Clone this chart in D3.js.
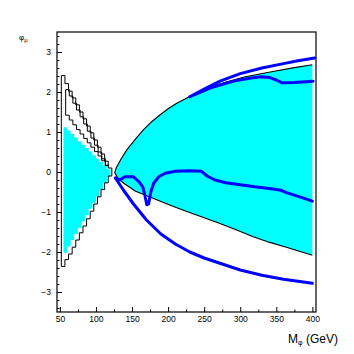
<!DOCTYPE html>
<head>
  <meta charset="utf-8">
  <script src="https://d3js.org/d3.v7.min.js"></script>
  <style>
    body { margin:0; background:#fff; }
    svg { display:block; }
    .tick text { font-family: "Liberation Sans", Arial, sans-serif; font-size: 8.5px; fill:#000; }
    .tick line { stroke:#000; stroke-width:1; }
  </style>
</head>
<body>
<script>
  // left region: stepped contours (bin edges + bin values)
  var outerEdges  = [52, 57, 62, 67, 72, 77, 82, 87, 92, 97, 102, 107, 112, 117, 122];
  var outerTop    = [2.41, 2.21, 2.02, 1.85, 1.68, 1.50, 1.33, 1.15, 0.98, 0.80, 0.62, 0.45, 0.27, 0.10];
  var outerBottom = [-2.36, -2.19, -2.05, -1.88, -1.70, -1.52, -1.35, -1.17, -0.98, -0.80, -0.62, -0.44, -0.27, -0.10];

  var midEdges  = [58, 63, 68, 73, 78, 83, 88, 93, 98, 103, 108, 113, 118];
  var midTop    = [2.06, 1.90, 1.72, 1.55, 1.38, 1.20, 1.02, 0.85, 0.67, 0.50, 0.33, 0.17];
  var midBottom = [1.42, 1.30, 1.18, 1.06, 0.95, 0.84, 0.73, 0.62, 0.51, 0.40, 0.28, 0.16];

  var cyanEdges  = [55, 60, 65, 70, 75, 80, 85, 90, 95, 100, 105, 110, 115, 120];
  var cyanTop    = [1.12, 1.03, 0.95, 0.86, 0.77, 0.68, 0.60, 0.51, 0.42, 0.33, 0.25, 0.16, 0.07];
  var cyanBottom = [-2.02, -1.86, -1.70, -1.55, -1.40, -1.24, -1.08, -0.92, -0.77, -0.61, -0.45, -0.29, -0.12];

  // right region: black boundary curves
  var upperBlackX = [126, 128, 135, 143, 155, 166, 178, 189, 200, 212, 235, 258, 281, 304, 327, 351, 375, 400];
  var upperBlackY = [-0.02, 0.10, 0.33, 0.56, 0.83, 1.06, 1.27, 1.43, 1.58, 1.72, 1.93, 2.12, 2.25, 2.37, 2.45, 2.53, 2.61, 2.68];
  var lowerBlackX = [126, 131, 140, 155, 180, 203, 226, 249, 272, 295, 318, 341, 364, 382, 400];
  var lowerBlackY = [-0.02, -0.17, -0.30, -0.48, -0.66, -0.83, -0.99, -1.14, -1.29, -1.45, -1.62, -1.76, -1.88, -1.98, -2.08];

  // blue curves
  var blueTopX = [230, 250, 272, 300, 330, 360, 380, 403];
  var blueTopY = [1.88, 2.07, 2.27, 2.46, 2.60, 2.71, 2.78, 2.85];
  var blueBranchX = [236, 258, 280, 295, 315, 328, 341, 350, 358, 375, 401];
  var blueBranchY = [1.93, 2.10, 2.22, 2.29, 2.35, 2.38, 2.36, 2.30, 2.23, 2.24, 2.27];
  var blueMidX = [127, 133, 140, 152, 160, 165, 168, 170.5, 173, 176, 180, 187, 196, 210, 230, 246, 254, 265, 280, 300, 320, 340, 355, 365, 375, 400];
  var blueMidY = [-0.15, -0.20, -0.12, -0.12, -0.25, -0.38, -0.60, -0.82, -0.80, -0.50, -0.28, -0.12, -0.03, 0.02, 0.03, 0.02, -0.10, -0.20, -0.27, -0.32, -0.37, -0.41, -0.45, -0.52, -0.58, -0.73];
  var blueLowX = [127, 138, 152, 170, 190, 210, 230, 250, 275, 300, 330, 360, 400];
  var blueLowY = [-0.15, -0.45, -0.80, -1.20, -1.55, -1.80, -2.00, -2.15, -2.30, -2.45, -2.58, -2.68, -2.78];

  var xTicks = [50, 100, 150, 200, 250, 300, 350, 400];
  var yTicks = [-3, -2, -1, 0, 1, 2, 3];

  var W = 354, H = 354;
  var L = 57, R = 316, T = 32, B = 312;

  var svg = d3.select("body").append("svg").attr("width", W).attr("height", H);

  var x = d3.scaleLinear().domain([46, 405]).range([L, R]);
  var y = d3.scaleLinear().domain([-3.5, 3.5]).range([B, T]);

  var line = d3.line().x(function(d){ return x(d[0]); }).y(function(d){ return y(d[1]); });

  // closed stepped contour from edges / top / bottom
  function stepShape(edges, top, bot) {
    var pts = [[edges[0], bot[0]], [edges[0], top[0]]];
    for (var i = 0; i < top.length; i++) {
      if (i > 0) pts.push([edges[i], top[i]]);
      pts.push([edges[i+1], top[i]]);
    }
    for (var j = bot.length - 1; j >= 0; j--) {
      pts.push([edges[j+1], bot[j]]);
      pts.push([edges[j], bot[j]]);
    }
    return pts;
  }
  function zip(xs, ys) { return xs.map(function(v, i){ return [v, ys[i]]; }); }

  // cyan fills
  svg.append("path")
    .attr("d", line(stepShape(cyanEdges, cyanTop, cyanBottom)) + "Z")
    .attr("fill", "#00ffff");
  var rightArea = zip(upperBlackX, upperBlackY).concat(zip(lowerBlackX, lowerBlackY).reverse());
  svg.append("path")
    .attr("d", line(rightArea) + "Z")
    .attr("fill", "#00ffff");

  // black contours
  [stepShape(outerEdges, outerTop, outerBottom), stepShape(midEdges, midTop, midBottom)].forEach(function(p){
    svg.append("path").attr("d", line(p) + "Z")
      .attr("fill", "none").attr("stroke", "#000").attr("stroke-width", 1);
  });
  [zip(upperBlackX, upperBlackY), zip(lowerBlackX, lowerBlackY)].forEach(function(p){
    svg.append("path").attr("d", line(p))
      .attr("fill", "none").attr("stroke", "#000").attr("stroke-width", 1.1);
  });

  // blue curves
  [zip(blueTopX, blueTopY), zip(blueBranchX, blueBranchY), zip(blueMidX, blueMidY), zip(blueLowX, blueLowY)].forEach(function(p){
    svg.append("path").attr("d", line(p))
      .attr("fill", "none").attr("stroke", "#0000ff").attr("stroke-width", 3)
      .attr("stroke-linejoin", "round").attr("stroke-linecap", "round");
  });

  // axes (ticks inside, ROOT style)
  svg.append("g").attr("transform", "translate(" + L + ",0)")
    .call(d3.axisLeft(y).tickValues(yTicks).tickSize(-5).tickSizeOuter(0).tickPadding(6).tickFormat(d3.format("d")))
    .call(function(g){ g.select(".domain").remove(); });
  svg.append("g").attr("transform", "translate(" + L + ",0)")
    .call(d3.axisLeft(y).tickValues(d3.range(-34, 35, 2).map(function(v){ return v / 10; })).tickSize(-2.5).tickSizeOuter(0).tickFormat(""))
    .call(function(g){ g.select(".domain").remove(); });

  svg.append("g").attr("transform", "translate(0," + B + ")")
    .call(d3.axisBottom(x).tickValues(xTicks).tickSize(-5).tickSizeOuter(0).tickPadding(4))
    .call(function(g){ g.select(".domain").remove(); });
  svg.append("g").attr("transform", "translate(0," + B + ")")
    .call(d3.axisBottom(x).tickValues([75, 125, 175, 225, 275, 325, 375]).tickSize(-2.5).tickSizeOuter(0).tickFormat(""))
    .call(function(g){ g.select(".domain").remove(); });

  // frame
  svg.append("rect").attr("x", L).attr("y", T).attr("width", R - L).attr("height", B - T)
    .attr("fill", "none").attr("stroke", "#000").attr("stroke-width", 1.2);

  // titles
  var xt = svg.append("text").attr("x", 338).attr("y", 343).attr("text-anchor", "end")
    .style("font-family", "Liberation Sans, Arial, sans-serif").style("font-size", "12px");
  xt.append("tspan").text("M");
  xt.append("tspan").attr("dy", 2).style("font-size", "7px").text("φ");
  xt.append("tspan").attr("dy", -2).text(" (GeV)");

  var yt = svg.append("text").attr("x", 19).attr("y", 40)
    .style("font-family", "Liberation Sans, Arial, sans-serif").style("font-size", "8px");
  yt.append("tspan").text("φ");
  yt.append("tspan").attr("dy", 1.5).style("font-size", "6px").text("μ");
</script>
</body>
